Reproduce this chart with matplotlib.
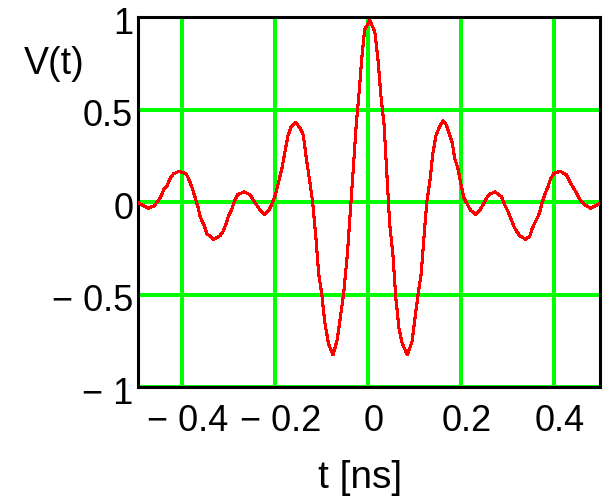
import matplotlib
matplotlib.use("Agg")
import matplotlib.pyplot as plt
import matplotlib.transforms as mtransforms

# values (t in ns, V normalised)
t_ns = [-0.496, -0.486, -0.473, -0.461, -0.453, -0.445, -0.440, -0.432, -0.427, -0.419,
        -0.406, -0.391, -0.385, -0.378, -0.373, -0.366, -0.361, -0.353, -0.347, -0.333,
        -0.319, -0.312, -0.305, -0.300, -0.293, -0.287, -0.280, -0.266, -0.253, -0.246,
        -0.238, -0.231, -0.223, -0.213, -0.206, -0.199, -0.192, -0.185, -0.179, -0.172,
        -0.165, -0.156, -0.147, -0.139, -0.133, -0.125, -0.119, -0.112, -0.106, -0.099,
        -0.093, -0.085, -0.075, -0.066, -0.059, -0.052, -0.044, -0.039, -0.032, -0.025,
        -0.019, -0.013, -0.007, 0.004, 0.015, 0.022, 0.028, 0.035, 0.041, 0.047,
        0.054, 0.060, 0.067, 0.074, 0.085, 0.095, 0.101, 0.108, 0.115, 0.121,
        0.127, 0.134, 0.140, 0.147, 0.155, 0.162, 0.169, 0.175, 0.182, 0.187,
        0.194, 0.200, 0.207, 0.214, 0.221, 0.232, 0.241, 0.248, 0.254, 0.261,
        0.274, 0.288, 0.295, 0.302, 0.308, 0.315, 0.322, 0.328, 0.340, 0.349,
        0.354, 0.361, 0.369, 0.375, 0.382, 0.388, 0.394, 0.401, 0.414, 0.428,
        0.435, 0.442, 0.449, 0.455, 0.462, 0.468, 0.480, 0.494, 0.501]
v_t = [0.000, -0.015, -0.032, -0.020, 0.003, 0.034, 0.067, 0.090, 0.124, 0.153,
       0.168, 0.153, 0.121, 0.076, 0.034, -0.024, -0.078, -0.123, -0.168, -0.200,
       -0.182, -0.159, -0.114, -0.074, -0.038, 0.009, 0.043, 0.056, 0.040, 0.009,
       -0.020, -0.047, -0.065, -0.042, -0.005, 0.040, 0.111, 0.184, 0.267, 0.360,
       0.409, 0.432, 0.405, 0.364, 0.247, 0.111, 0.003, -0.186, -0.384, -0.501,
       -0.645, -0.762, -0.825, -0.744, -0.618, -0.492, -0.276, -0.096, 0.157, 0.418,
       0.589, 0.778, 0.931, 0.985, 0.922, 0.769, 0.580, 0.418, 0.157, -0.114,
       -0.285, -0.510, -0.681, -0.762, -0.825, -0.754, -0.636, -0.501, -0.384, -0.186,
       0.003, 0.121, 0.265, 0.364, 0.412, 0.440, 0.418, 0.373, 0.319, 0.238,
       0.184, 0.103, 0.022, -0.009, -0.042, -0.065, -0.042, -0.015, 0.016, 0.043,
       0.056, 0.030, -0.015, -0.051, -0.087, -0.132, -0.164, -0.182, -0.200, -0.182,
       -0.141, -0.105, -0.063, -0.005, 0.049, 0.084, 0.130, 0.157, 0.168, 0.148,
       0.111, 0.081, 0.052, 0.022, -0.002, -0.015, -0.032, -0.015, -0.004]

x_ticks = [-0.4, -0.2, 0, 0.2, 0.4]
x_labels = ["\u2212 0.4", "\u2212 0.2", "0", "0.2", "0.4"]
y_ticks = [-1, -0.5, 0, 0.5, 1]
y_labels = ["\u2212 1", "\u2212 0.5", "0", "0.5", "1"]

plt.rcParams["font.family"] = ["Liberation Sans", "DejaVu Sans"]

fig = plt.figure(figsize=(6.1, 4.98), dpi=100)
ax = fig.add_axes([138 / 610, (498 - 387.3) / 498, 462 / 610, 370 / 498])

ax.plot(t_ns, v_t, color="#ff0000", lw=1.5, antialiased=False, zorder=3)

ax.set_xlim(-0.495, 0.5)
ax.set_ylim(-1, 1)
ax.set_xticks(x_ticks)
ax.set_xticklabels(x_labels)
ax.set_yticks(y_ticks)
ax.set_yticklabels(y_labels)
ax.grid(True, color="#00ff00", lw=1.6, antialiased=False)
ax.tick_params(axis="both", length=0, labelsize=26, colors="black")
ax.tick_params(axis="x", pad=12)
ax.tick_params(axis="y", pad=3.5)

for s in ax.spines.values():
    s.set_linewidth(2.2)
    s.set_color("black")

# Mathcad puts its labels slightly off the grid lines
dx = mtransforms.ScaledTranslation(0.06, 0, fig.dpi_scale_trans)
for lab in ax.get_xticklabels():
    lab.set_transform(lab.get_transform() + dx)
dy = mtransforms.ScaledTranslation(0, -0.03, fig.dpi_scale_trans)
for lab in ax.get_yticklabels():
    lab.set_transform(lab.get_transform() + dy)

ax.set_xlabel("t [ns]", fontsize=28)
ax.xaxis.set_label_coords(0.4805, -0.1965)
ax.set_ylabel("V(t)", fontsize=27, rotation=0, ha="center", va="center")
ax.yaxis.set_label_coords(-0.1807, 0.8727)

fig.savefig("out.png", dpi=100)
